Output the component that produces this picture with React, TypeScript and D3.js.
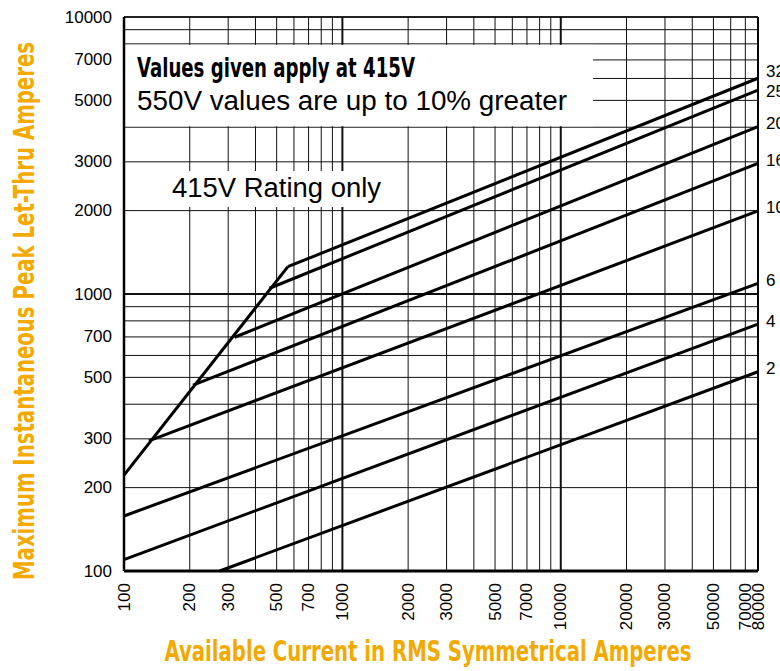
import React from 'react';
import * as d3 from 'd3';

const xTickLabels = [100, 200, 300, 500, 700, 1000, 2000, 3000, 5000, 7000, 10000, 20000, 30000, 50000, 70000, 80000];
const yTickLabels = [100, 200, 300, 500, 700, 1000, 2000, 3000, 5000, 7000, 10000];
const xGrid = [100, 200, 300, 400, 500, 600, 700, 800, 900, 1000, 2000, 3000, 4000, 5000, 6000, 7000, 8000, 9000, 10000, 20000, 30000, 40000, 50000, 60000, 70000, 80000];
const yGrid = [100, 200, 300, 400, 500, 600, 700, 800, 900, 1000, 2000, 3000, 4000, 5000, 6000, 7000, 8000, 9000, 10000];
const heavyX = [1000, 10000];
const heavyY = [1000];

const ratings = ['32', '25', '20', '16', '10', '6', '4', '2'];
const startCurrent = [563, 464, 321, 207, 130, 100, 100, 274];
const startPeak = [1255, 1049, 698, 469, 295, 158, 110, 100];
const endCurrent = [80000, 80000, 80000, 80000, 80000, 80000, 80000, 80000];
const endPeak = [6010, 5450, 4020, 2960, 1995, 1093, 779, 524];

const envelopeCurrent = [100, 563];
const envelopePeak = [222, 1255];

const ORANGE = '#F3A900';
const SANS = '"Liberation Sans", Arial, Helvetica, sans-serif';
const NARROW = '"Liberation Sans Narrow", "DejaVu Sans Condensed", "Liberation Sans", Arial, sans-serif';

export default function App() {
  const W = 780;
  const H = 671;
  const x = d3.scaleLog().domain([100, 80000]).range([124, 758]);
  const y = d3.scaleLog().domain([100, 10000]).range([571, 17]);
  const line = d3
    .line<[number, number]>()
    .x((d) => x(d[0]))
    .y((d) => y(d[1]));

  const x0 = x(100);
  const x1 = x(80000);
  const yTop = y(10000);
  const yBot = y(100);

  // label positions with simple collision spreading
  const labelYs = endPeak.map((v) => y(v) - 3);
  for (let i = 1; i < labelYs.length; i++) {
    if (labelYs[i] - labelYs[i - 1] < 20) {
      const mid = (labelYs[i] + labelYs[i - 1]) / 2;
      labelYs[i - 1] = mid - 10;
      labelYs[i] = mid + 10;
    }
  }

  return (
    <svg
      width={W}
      height={H}
      style={{ position: 'absolute', left: 0, top: 0, background: '#fff' }}
    >
      <rect x={0} y={0} width={W} height={H} fill="#fff" />
      {/* grid */}
      <g>
        {xGrid.map((v) => (
          <line
            key={'gx' + v}
            x1={x(v)}
            x2={x(v)}
            y1={yTop}
            y2={yBot}
            stroke="#111"
            strokeWidth={heavyX.includes(v) ? 2 : 1}
          />
        ))}
        {yGrid.map((v) => (
          <line
            key={'gy' + v}
            x1={x0}
            x2={x1}
            y1={y(v)}
            y2={y(v)}
            stroke="#111"
            strokeWidth={heavyY.includes(v) ? 2 : 1}
          />
        ))}
      </g>
      {/* white boxes behind texts */}
      <rect x={x0 + 1} y={y(8000) + 1} width={592 - x0} height={y(4000) - y(8000) - 2} fill="#fff" />
      <rect x={168} y={171} width={217} height={36} fill="#fff" />

      {/* frame */}
      <line x1={x0} x2={x0} y1={yTop} y2={yBot} stroke="#000" strokeWidth={2.5} />
      <line x1={x1} x2={x1} y1={yTop} y2={yBot} stroke="#000" strokeWidth={2} />
      <line x1={x0} x2={x1} y1={yTop} y2={yTop} stroke="#000" strokeWidth={1.5} />
      <line x1={x0} x2={x1} y1={yBot} y2={yBot} stroke="#000" strokeWidth={3} />

      {/* envelope */}
      <path
        d={line(envelopeCurrent.map((c, i) => [c, envelopePeak[i]] as [number, number])) || ''}
        fill="none"
        stroke="#000"
        strokeWidth={3}
      />
      {/* rating lines */}
      {ratings.map((r, i) => (
        <path
          key={'l' + r}
          d={
            line([
              [startCurrent[i], startPeak[i]],
              [endCurrent[i], endPeak[i]],
            ]) || ''
          }
          fill="none"
          stroke="#000"
          strokeWidth={3}
        />
      ))}
      {ratings.map((r, i) => (
        <text
          key={'t' + r}
          x={766}
          y={labelYs[i]}
          dominantBaseline="central"
          fontFamily={SANS}
          fontSize={17}
          fill="#000"
        >
          {r}
        </text>
      ))}

      {/* y tick labels */}
      {yTickLabels.map((v) => (
        <text
          key={'yt' + v}
          x={112}
          y={y(v)}
          textAnchor="end"
          dominantBaseline="central"
          fontFamily={SANS}
          fontSize={17}
          fill="#000"
        >
          {v}
        </text>
      ))}
      {/* x tick labels */}
      {xTickLabels.map((v) => (
        <text
          key={'xt' + v}
          transform={`translate(${x(v)},583) rotate(-90)`}
          textAnchor="end"
          dominantBaseline="central"
          fontFamily={SANS}
          fontSize={17}
          fill="#000"
        >
          {v}
        </text>
      ))}

      {/* annotations */}
      <text x={137} y={77} fontFamily={NARROW} fontWeight="bold" fontSize={27} textLength={278} lengthAdjust="spacingAndGlyphs" fill="#000">
        Values given apply at 415V
      </text>
      <text x={137} y={110} fontFamily={SANS} fontSize={27} textLength={430} lengthAdjust="spacingAndGlyphs" fill="#000">
        550V values are up to 10% greater
      </text>
      <text x={172} y={197} fontFamily={SANS} fontSize={27} textLength={209} lengthAdjust="spacingAndGlyphs" fill="#000">
        415V Rating only
      </text>

      {/* axis titles */}
      <text
        transform="translate(34,311) rotate(-90)"
        textAnchor="middle"
        fontFamily={NARROW}
        fontWeight="bold"
        fontSize={28}
        textLength={538}
        lengthAdjust="spacingAndGlyphs"
        fill={ORANGE}
      >
        Maximum Instantaneous Peak Let-Thru Amperes
      </text>
      <text
        x={428}
        y={661}
        textAnchor="middle"
        fontFamily={NARROW}
        fontWeight="bold"
        fontSize={28}
        textLength={527}
        lengthAdjust="spacingAndGlyphs"
        fill={ORANGE}
      >
        Available Current in RMS Symmetrical Amperes
      </text>
    </svg>
  );
}
